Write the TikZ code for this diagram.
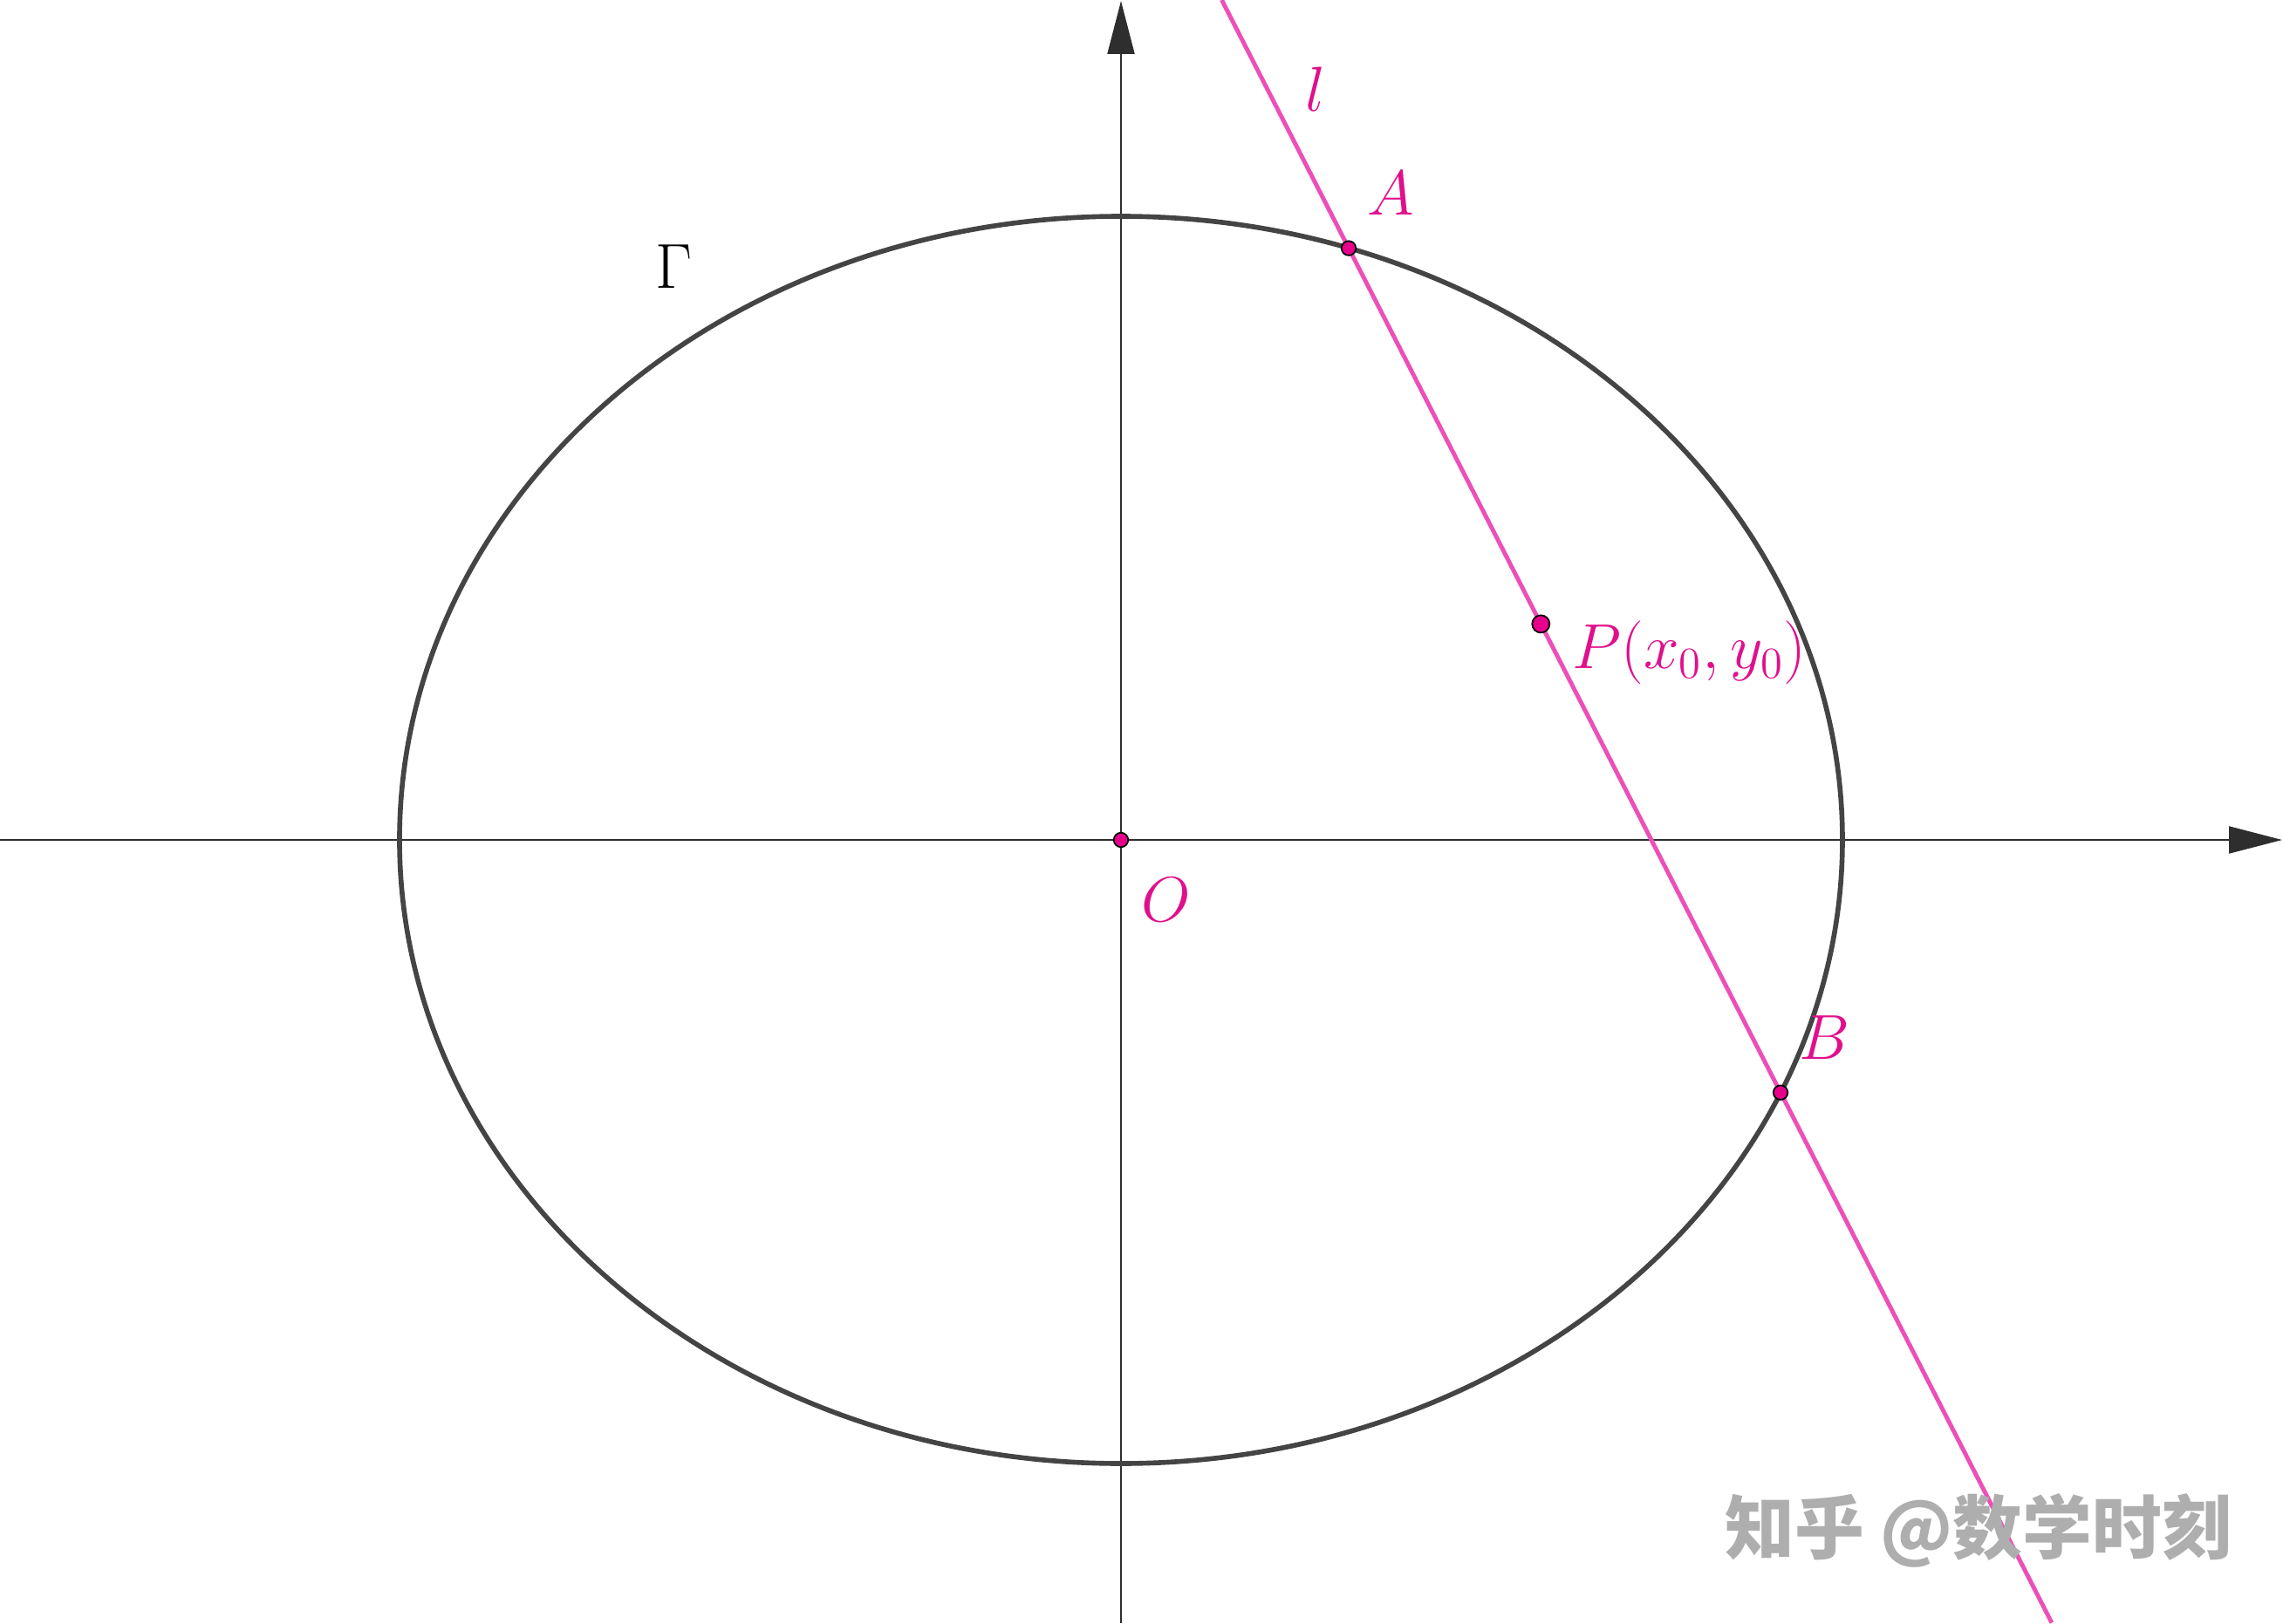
\documentclass[tikz,border=0pt]{standalone}
\usepackage{fontspec}
\newfontfamily\cjk{Noto Sans CJK SC}
\usetikzlibrary{arrows.meta, calc}
\definecolor{CurveGray}{HTML}{444444}
\definecolor{AxisGray}{HTML}{2E2E2E}
\definecolor{LinePink}{HTML}{EC50B8}
\definecolor{PtMagenta}{HTML}{E6008C}
\definecolor{LblMagenta}{HTML}{E0108C}
\definecolor{MarkGray}{HTML}{AEAEAE}

\begin{document}
\begin{tikzpicture}[
    dot/.style={circle, draw=black, line width=0.5pt, fill=PtMagenta, inner sep=0pt, minimum size=0.165cm},
    lbl/.style={text=LblMagenta, font=\huge, inner sep=0pt},
    axis/.style={AxisGray, line width=0.6pt, -{Triangle[length=0.61cm, width=0.31cm]}}
]
    \useasboundingbox (-12.85,-8.98) rectangle (13.32,9.63);

    % Axes
    \coordinate (xl) at (-12.85,0);
    \coordinate (xr) at (13.31,0);
    \coordinate (yb) at (0,-8.98);
    \coordinate (yt) at (0,9.62);
    \draw[axis] (xl) -- (xr);
    \draw[axis] (yb) -- (yt);

    % Ellipse Gamma: a = 8.27, b = 7.15
    \draw[CurveGray, line width=1.6pt] (0,0) ellipse (8.27 and 7.15);
    \node[font=\huge, inner sep=0pt] (gamma) at (-5.12,6.57) {$\Gamma$};

    % Chord through P, meeting Gamma at A and B
    \coordinate (A) at (71.6:8.27 and 7.15);
    \coordinate (B) at (-23.9:8.27 and 7.15);
    \coordinate (P) at ($(A)!0.445!(B)$);
    \coordinate (ltop) at ($(A)!-0.294!(B)$);
    \coordinate (lbot) at ($(A)!1.628!(B)$);
    \draw[LinePink, line width=1.4pt] (ltop) -- (lbot);
    \node[lbl] (lname) at (2.23,8.61) {$l$};

    % Points
    \node[dot] (O) at (0,0) {};
    \node[dot] (Adot) at (A) {};
    \node[dot] (Bdot) at (B) {};
    \node[dot, minimum size=0.2cm] (Pdot) at (P) {};

    % Labels
    \node[lbl] (Olbl) at (0.52,-0.69) {$O$};
    \node[lbl] (Albl) at (3.09,7.41) {$A$};
    \node[lbl] (Blbl) at (8.06,-2.27) {$B$};
    \node[lbl, anchor=west] (Plbl) at (5.17,2.15) {$P(x_0,y_0)$};

    % Watermark
    \node[text=MarkGray, font=\cjk\bfseries\fontsize{22.7}{26}\selectfont] (mark) at (9.83,-7.92) {知乎 @数学时刻};
\end{tikzpicture}
\end{document}
